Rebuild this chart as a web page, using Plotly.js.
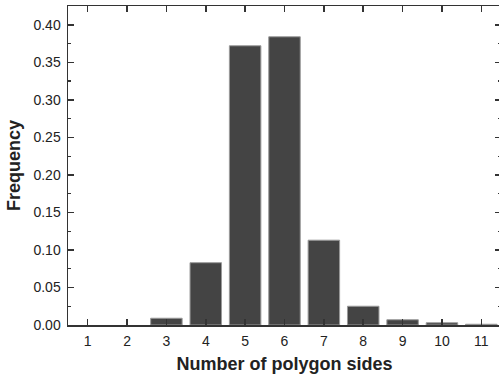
<!DOCTYPE html>
<html><head><meta charset="utf-8">
<script src="https://cdn.plot.ly/plotly-3.0.1.min.js"></script>
<style>html,body{margin:0;padding:0;overflow:hidden;background:#fff}</style>
</head><body><div id="chart"></div>
<script>
const sides = [1,2,3,4,5,6,7,8,9,10,11];
const frequency = [0,0,0.009,0.083,0.372,0.384,0.113,0.025,0.007,0.003,0.001];
const yTickVals = [0,0.05,0.10,0.15,0.20,0.25,0.30,0.35,0.40];
const yTickText = ['0.00','0.05','0.10','0.15','0.20','0.25','0.30','0.35','0.40'];

const trace = {
  type:'bar', x: sides, y: frequency, width: 0.8,
  marker:{color:'#444444', line:{color:'#9a9a9a', width: frequency.map(v => v > 0 ? 1 : 0)}},
  hoverinfo:'skip'
};
const FONT = 'Liberation Sans, Arial, sans-serif';
const axisCommon = {
  showline:true, linecolor:'#333', linewidth:1.5, mirror:'ticks',
  ticks:'inside', tickcolor:'#333', tickwidth:1.5, ticklen:6,
  showgrid:false, zeroline:false, layer:'above traces',
  tickfont:{family:FONT, size:14, color:'#222'}
};
const layout = {
  width:502, height:378,
  margin:{l:68, r:1, t:6, b:53},
  paper_bgcolor:'#fff', plot_bgcolor:'#fff',
  showlegend:false,
  xaxis: Object.assign({}, axisCommon, {
    range:[0.5,11.5], tickvals: sides, ticktext: sides.map(String),
    ticklabelstandoff:3,
    title:{text:'<b>Number of polygon sides</b>', standoff:9,
      font:{family:FONT, size:18, color:'#222'}}
  }),
  yaxis: Object.assign({}, axisCommon, {
    range:[0,0.425], tickvals: yTickVals, ticktext: yTickText,
    ticklabelstandoff:3,
    minor:{dtick:0.025, tick0:0, ticks:'inside', ticklen:3, tickcolor:'#333', tickwidth:1.2, showgrid:false},
    title:{text:'<b>Frequency</b>', standoff:8,
      font:{family:FONT, size:18, color:'#222'}}
  })
};
Plotly.newPlot('chart', [trace], layout, {staticPlot:true, displayModeBar:false});
</script></body></html>
